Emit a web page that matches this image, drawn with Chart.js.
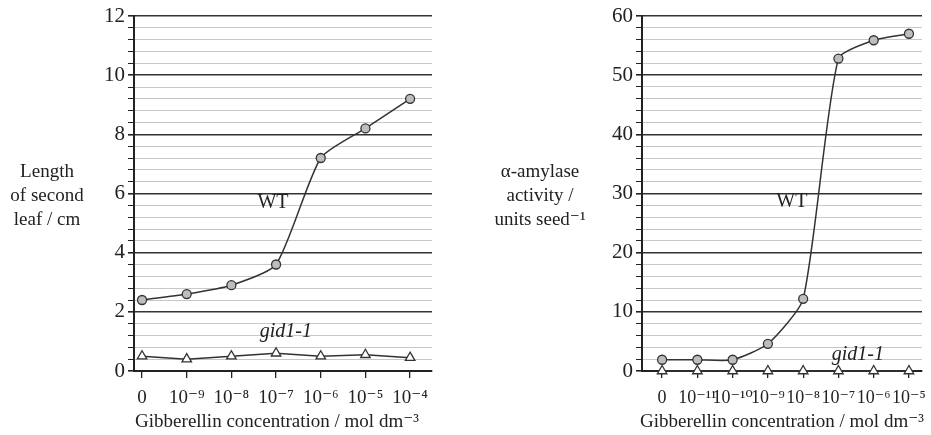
<!DOCTYPE html>
<html>
<head>
<meta charset="utf-8">
<script src="https://cdn.jsdelivr.net/npm/chart.js@4.4.1/dist/chart.umd.min.js"></script>
<style>
  html, body { margin: 0; padding: 0; background: #fff; }
  #wrap { position: relative; width: 931px; height: 435px; }
  .box { position: absolute; top: 0; height: 435px; }
</style>
</head>
<body>
<div id="wrap">
  <div class="box" style="left:0;width:465px"><canvas id="leafChart"></canvas></div>
  <div class="box" style="left:465px;width:466px"><canvas id="amylaseChart"></canvas></div>
</div>
<script>
// left chart: length of second leaf
const leafConc = ['0', '10⁻⁹', '10⁻⁸', '10⁻⁷', '10⁻⁶', '10⁻⁵', '10⁻⁴'];
const leafWT = [2.4, 2.6, 2.9, 3.6, 7.2, 8.2, 9.2];
const leafGid = [0.5, 0.4, 0.5, 0.6, 0.5, 0.55, 0.45];

// right chart: alpha-amylase activity
const amyConc = ['0', '10⁻¹¹', '10⁻¹⁰', '10⁻⁹', '10⁻⁸', '10⁻⁷', '10⁻⁶', '10⁻⁵'];
const amyWT = [1.9, 1.9, 1.9, 4.6, 12.2, 52.8, 55.9, 57.0];
const amyGid = [0, 0, 0, 0, 0, 0, 0, 0];

const SERIF = "'Liberation Serif', 'DejaVu Serif', serif";
const INK = '#222';

function toPoints(values) {
    return values.map(function (v, i) { return { x: i, y: v }; });
}

// draws horizontal axis titles and the WT / gid1-1 labels
const textPlugin = {
    id: 'texts',
    afterDraw(chart, args, opts) {
        const c = chart.ctx;
        const xs = chart.scales.x, ys = chart.scales.y;
        c.save();
        c.fillStyle = INK;
        c.textAlign = 'center';
        c.textBaseline = 'middle';
        c.font = '19px ' + SERIF;
        opts.yTitle.forEach(function (line, i) {
            c.fillText(line, opts.yTitleX, opts.yTitleY + i * 24);
        });
        c.fillText(opts.xTitle, (chart.chartArea.left + chart.chartArea.right) / 2 + opts.xTitleShift, 422);
        opts.labels.forEach(function (l) {
            c.font = (l.italic ? 'italic ' : '') + '20px ' + SERIF;
            c.fillText(l.text, xs.getPixelForValue(l.x), ys.getPixelForValue(l.y));
        });
        c.restore();
    }
};

function makeChart(id, cfg) {
    const major = cfg.majorStep;
    const isMajor = function (v) { return Math.abs(v / major - Math.round(v / major)) < 1e-6; };
    return new Chart(document.getElementById(id), {
        type: 'line',
        data: {
            datasets: [{
                label: 'WT',
                data: toPoints(cfg.wt),
                borderColor: '#333',
                borderWidth: 1.5,
                tension: 0.2,
                clip: false,
                pointStyle: 'circle',
                pointRadius: 4.5,
                pointBackgroundColor: '#bdbdbd',
                pointBorderColor: '#333',
                pointBorderWidth: 1.3
            }, {
                label: 'gid1-1',
                data: toPoints(cfg.gid),
                borderColor: '#333',
                borderWidth: 1.5,
                tension: 0,
                clip: false,
                pointStyle: 'triangle',
                pointRadius: 5.5,
                pointBackgroundColor: '#fff',
                pointBorderColor: '#333',
                pointBorderWidth: 1.3
            }]
        },
        options: {
            responsive: true,
            maintainAspectRatio: false,
            animation: false,
            layout: { padding: { left: cfg.padLeft, right: cfg.padRight, top: 16, bottom: 0 } },
            plugins: {
                legend: { display: false },
                tooltip: { enabled: false },
                texts: cfg.texts
            },
            scales: {
                x: {
                    type: 'linear',
                    min: cfg.xMin,
                    max: cfg.xMax,
                    afterBuildTicks: function (s) {
                        s.ticks = cfg.conc.map(function (_, i) { return { value: i }; });
                    },
                    afterFit: function (s) {
                        s.height = 64;
                        s.paddingLeft = 0;
                        s.paddingRight = 0;
                    },
                    grid: { drawOnChartArea: false, drawTicks: true, tickLength: 7, color: '#222', lineWidth: 1.3 },
                    border: { color: '#222', width: 2 },
                    ticks: {
                        autoSkip: false,
                        maxRotation: 0,
                        padding: 9,
                        color: INK,
                        font: { family: SERIF, size: cfg.xTickSize },
                        callback: function (v) { return cfg.conc[v] !== undefined ? cfg.conc[v] : ''; }
                    }
                },
                y: {
                    min: 0,
                    max: cfg.yMax,
                    afterFit: function (s) { s.width = 40; },
                    afterBuildTicks: function (s) {
                        const t = [];
                        const n = Math.round(cfg.yMax / cfg.minorStep);
                        for (let i = 0; i <= n; i++) t.push({ value: +(i * cfg.minorStep).toFixed(4) });
                        s.ticks = t;
                    },
                    grid: {
                        drawTicks: true,
                        tickLength: 6,
                        color: function (c) { return isMajor(c.tick.value) ? '#333' : '#c8c8c8'; },
                        lineWidth: function (c) { return isMajor(c.tick.value) ? 1.6 : 1; },
                        tickColor: '#222'
                    },
                    border: { color: '#222', width: 2 },
                    ticks: {
                        autoSkip: false,
                        padding: 3,
                        color: INK,
                        font: { family: SERIF, size: 21 },
                        callback: function (v) { return isMajor(v) ? String(Math.round(v)) : ''; }
                    }
                }
            }
        },
        plugins: [textPlugin]
    });
}

document.addEventListener('DOMContentLoaded', function () {
    makeChart('leafChart', {
        conc: leafConc, wt: leafWT, gid: leafGid,
        yMax: 12, minorStep: 0.4, majorStep: 2,
        xMin: -0.18, xMax: 6.49, xTickSize: 19,
        padLeft: 94, padRight: 33,
        texts: {
            yTitle: ['Length', 'of second', 'leaf / cm'],
            yTitleX: 47, yTitleY: 172,
            xTitle: 'Gibberellin concentration / mol dm⁻³', xTitleShift: -6,
            labels: [
                { text: 'WT', x: 2.93, y: 5.7, italic: false },
                { text: 'gid1-1', x: 3.22, y: 1.32, italic: true }
            ]
        }
    });

    makeChart('amylaseChart', {
        conc: amyConc, wt: amyWT, gid: amyGid,
        yMax: 60, minorStep: 2, majorStep: 10,
        xMin: -0.57, xMax: 7.37, xTickSize: 18,
        padLeft: 137, padRight: 9,
        texts: {
            yTitle: ['α-amylase', 'activity /', 'units seed⁻¹'],
            yTitleX: 75, yTitleY: 172,
            xTitle: 'Gibberellin concentration / mol dm⁻³', xTitleShift: 0,
            labels: [
                { text: 'WT', x: 3.68, y: 28.6, italic: false },
                { text: 'gid1-1', x: 5.55, y: 2.7, italic: true }
            ]
        }
    });
});
</script>
</body>
</html>
